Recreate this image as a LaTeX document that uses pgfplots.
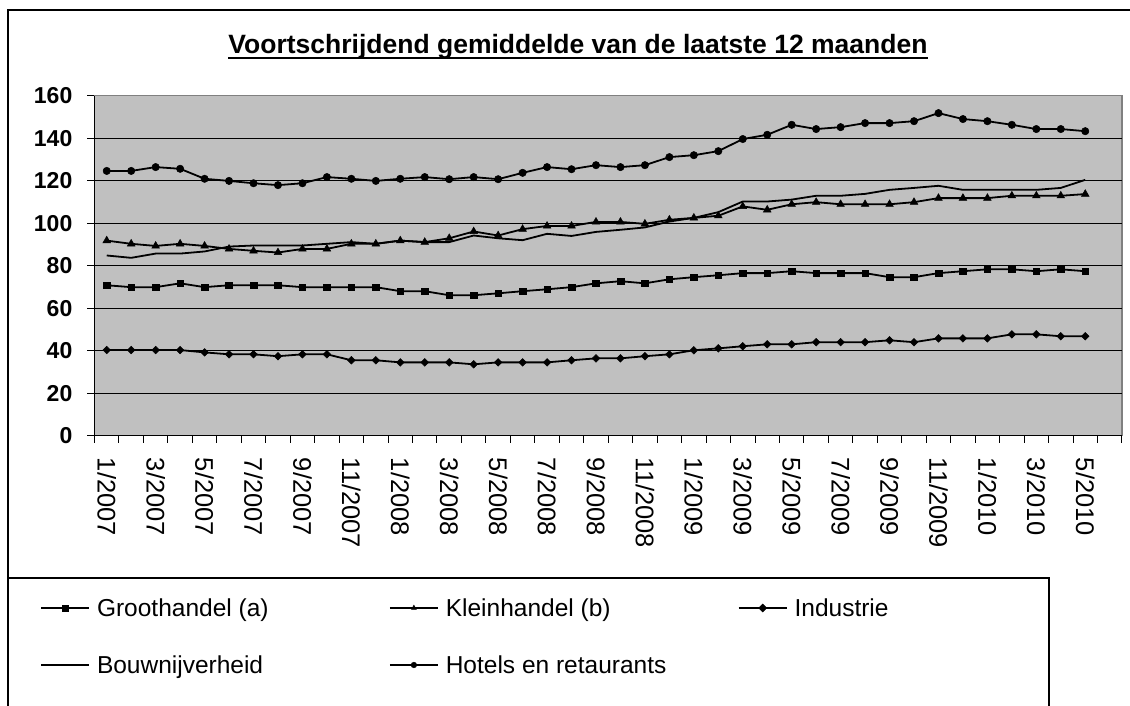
\documentclass[border=0pt]{standalone}
\usepackage{fontspec}
\setmainfont{Liberation Sans}
\usepackage{pgfplots}
\usepackage{pgfplotstable}
\pgfplotsset{compat=1.18}
\pgfplotstableread{
idx groot klein indus bouw hotel
0 70.8 91.8 40.3 84.8 124.6
1 69.9 90.3 40.3 83.7 124.6
2 69.9 89.3 40.3 85.7 126.4
3 71.7 90.3 40.3 85.7 125.6
4 69.9 89.3 39.2 86.7 120.9
5 70.8 87.9 38.3 89.0 119.9
6 70.8 87.0 38.3 89.5 118.8
7 70.8 86.2 37.4 89.5 117.9
8 69.9 87.9 38.3 89.5 118.8
9 69.9 87.9 38.3 90.3 121.7
10 69.9 90.3 35.5 91.1 120.9
11 69.9 90.3 35.5 90.3 119.9
12 68.0 91.8 34.5 91.8 120.9
13 68.0 91.1 34.5 91.1 121.7
14 66.1 92.9 34.5 91.1 120.7
15 66.1 96.1 33.6 94.2 121.7
16 67.0 94.2 34.5 92.9 120.7
17 68.0 97.2 34.5 92.0 123.7
18 68.9 98.7 34.5 95.0 126.4
19 69.9 98.7 35.5 94.0 125.4
20 71.7 100.6 36.4 95.9 127.3
21 72.7 100.6 36.4 96.9 126.4
22 71.7 99.7 37.4 98.0 127.3
23 73.6 101.6 38.3 100.8 131.1
24 74.6 102.5 40.2 102.5 132.0
25 75.5 103.5 41.1 105.2 133.9
26 76.5 107.9 42.1 110.2 139.6
27 76.5 106.3 43.0 110.2 141.6
28 77.4 108.9 43.0 111.1 146.3
29 76.5 109.9 44.0 112.9 144.3
30 76.5 108.9 44.0 112.9 145.2
31 76.5 108.9 44.0 113.8 147.1
32 74.6 108.9 44.9 115.7 147.1
33 74.6 109.9 44.0 116.6 148.0
34 76.5 111.8 45.8 117.6 151.8
35 77.4 111.8 45.8 115.7 149.0
36 78.3 111.8 45.8 115.7 148.0
37 78.3 112.9 47.7 115.7 146.3
38 77.4 112.9 47.7 115.7 144.3
39 78.3 112.9 46.8 116.6 144.3
40 77.4 113.7 46.8 120.4 143.3
}\datatable
\definecolor{plotgray}{RGB}{192,192,192}
\definecolor{bordergray}{RGB}{128,128,128}
\begin{document}
\begin{tikzpicture}
\path[use as bounding box] (0pt,0pt) rectangle (1130pt,706pt);
\clip (0pt,0pt) rectangle (1130pt,706pt);
\draw[line width=1.5pt] (8pt,-20pt) -- (8pt,696pt) -- (1150pt,696pt);
\draw[line width=1.5pt] (8pt,128pt) -- (1049pt,128pt) -- (1049pt,-20pt);
\node[font=\fontsize{26.5}{30}\selectfont\bfseries, inner sep=0pt, anchor=base] (title) at (578pt,652pt) {Voortschrijdend gemiddelde van de laatste 12 maanden};
\draw[line width=2pt] ([yshift=-4pt]title.base west) -- ([yshift=-4pt]title.base east);
\begin{axis}[
  at={(94.5pt,270.3pt)}, anchor=south west,
  scale only axis, width=1027.5pt, height=340pt,
  xmin=-0.5, xmax=41.5, ymin=0, ymax=160,
  axis lines=left, axis line style={-, black, line width=1.2pt},
  axis background/.style={fill=plotgray, draw=bordergray, line width=1.5pt},
  tick align=outside,
  major tick length=0pt, minor tick length=7pt,
  tick style={black, line width=1pt},
  ytick={0,20,...,140},
  extra y ticks={160}, extra y tick labels={160},
  extra y tick style={grid=none},
  minor ytick={0,20,...,160},
  ymajorgrids, major grid style={black, line width=1pt},
  xtick={0,2,...,40},
  xticklabels={1/2007,3/2007,5/2007,7/2007,9/2007,11/2007,1/2008,3/2008,5/2008,7/2008,9/2008,11/2008,1/2009,3/2009,5/2009,7/2009,9/2009,11/2009,1/2010,3/2010,5/2010},
  minor xtick={-0.5,0.5,...,41.5},
  /pgf/number format/assume math mode=true,
  yticklabel style={font=\fontsize{23}{25}\selectfont\bfseries, inner sep=0pt},
  yticklabel shift=22pt,
  xticklabel style={font=\fontsize{25.5}{27}\selectfont, rotate=-90, anchor=west, inner sep=0pt},
  xticklabel shift=22pt,
  legend columns=3,
  legend cell align=left,
  legend style={at={(axis description cs:-0.05304,-0.4709)}, anchor=north west, draw=none, fill=none, inner sep=0pt,
    font=\fontsize{24.5}{26}\selectfont, column sep=0pt, row sep=33pt,
    nodes={inner sep=0pt, text height=20pt, text depth=4pt}},
  legend image code/.code={\draw[mark repeat=2, mark phase=2, #1] plot coordinates {(0pt,0pt) (24pt,0pt) (48pt,0pt)};},
  legend image post style={mark size=2.8pt},
]
\addplot[black, line width=1.8pt, mark=square*, mark size=3.3pt, mark options={solid, line width=0.5pt}] table[x=idx,y=groot]{\datatable};
\addlegendentry{\makebox[299pt][l]{\hspace*{7pt}Groothandel (a)}}
\addplot[black, line width=1.8pt, mark=triangle*, mark size=4.4pt, mark options={solid, line width=0.5pt}] table[x=idx,y=klein]{\datatable};
\addlegendentry{\makebox[299pt][l]{\hspace*{7pt}Kleinhandel (b)}}
\addplot[black, line width=1.8pt, mark=square*, mark size=2.7pt, mark options={solid, rotate=45, line width=0.5pt}] table[x=idx,y=indus]{\datatable};
\addlegendentry{\makebox[299pt][l]{\hspace*{7pt}Industrie}}
\addplot[black, line width=1.8pt] table[x=idx,y=bouw]{\datatable};
\addlegendentry{\makebox[299pt][l]{\hspace*{7pt}Bouwnijverheid}}
\addplot[black, line width=1.8pt, mark=*, mark size=3.7pt, mark options={solid, line width=0.5pt}] table[x=idx,y=hotel]{\datatable};
\addlegendentry{\makebox[299pt][l]{\hspace*{7pt}Hotels en retaurants}}
\end{axis}
\end{tikzpicture}
\end{document}
